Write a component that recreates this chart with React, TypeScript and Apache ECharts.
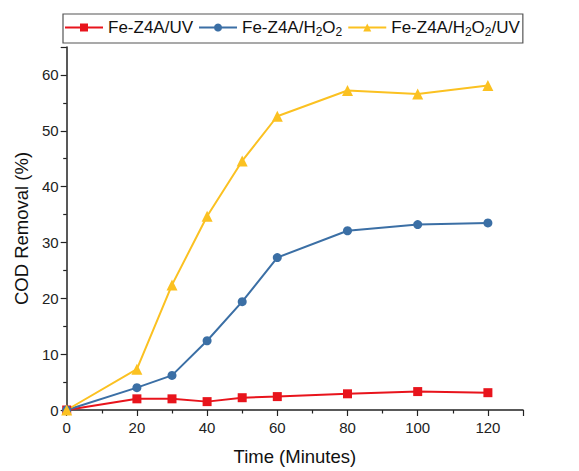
import React, { useEffect, useRef } from "react";
import * as echarts from "echarts";

const times = [0, 20, 30, 40, 50, 60, 80, 100, 120];
const uvValues = [0, 2.0, 2.0, 1.5, 2.2, 2.4, 2.9, 3.3, 3.1];
const h2o2Values = [0, 4.0, 6.2, 12.4, 19.4, 27.3, 32.1, 33.2, 33.5];
const h2o2UvValues = [0, 7.3, 22.4, 34.7, 44.6, 52.6, 57.2, 56.6, 58.1];
const seriesNames = ["Fe-Z4A/UV", "Fe-Z4A/H2O2", "Fe-Z4A/H2O2/UV"];
const legendLabels: Record<string, string> = {
  "Fe-Z4A/UV": "Fe-Z4A/UV",
  "Fe-Z4A/H2O2": "Fe-Z4A/H{sub|2}O{sub|2}",
  "Fe-Z4A/H2O2/UV": "Fe-Z4A/H{sub|2}O{sub|2}/UV",
};

const FONT = "'Liberation Sans', Arial, sans-serif";

export default function App() {
  const ref = useRef<HTMLDivElement>(null);
  useEffect(() => {
    if (!ref.current) return;
    const chart = echarts.init(ref.current, null, { renderer: "svg" });
    const mk = (name: string, vals: number[], color: string, symbol: string, size: number) => ({
      name,
      type: "line",
      data: times.map((t, i) => [t, vals[i]]),
      symbol,
      symbolSize: size,
      lineStyle: { color, width: 2 },
      itemStyle: { color },
      z: 3,
    });
    chart.setOption({
      animation: false,
      textStyle: { fontFamily: FONT },
      grid: { left: 66.7, right: 56, top: 47, bottom: 56.3, containLabel: false },
      legend: {
        left: 63,
        top: 14,
        padding: [5, 3, 5, 1],
        itemGap: 5,
        itemWidth: 38,
        itemHeight: 10,
        borderColor: "#555",
        borderWidth: 1.2,
        data: seriesNames,
        formatter: (n: string) => legendLabels[n],
        textStyle: {
          fontSize: 17,
          color: "#111",
          fontFamily: FONT,
          rich: {
            sub: { fontSize: 12, verticalAlign: "bottom", padding: [9, 0, 0, 0], color: "#111", fontFamily: FONT },
          },
        },
      },
      xAxis: {
        type: "value",
        min: 0,
        max: 130,
        interval: 20,
        name: "Time (Minutes)",
        nameLocation: "middle",
        nameGap: 37,
        nameTextStyle: { fontSize: 18.5, color: "#111", fontFamily: FONT },
        axisLine: { show: true, onZero: false, lineStyle: { color: "#222", width: 1.5 } },
        axisTick: { show: true, inside: false, length: 6, lineStyle: { color: "#222", width: 1.2 } },
        minorTick: { show: true, splitNumber: 2, length: 3.5, lineStyle: { color: "#222", width: 1.2 } },
        splitLine: { show: false },
        axisLabel: {
          fontSize: 15,
          color: "#222",
          margin: 10,
          fontFamily: FONT,
          formatter: (v: number) => (v > 120 ? "" : String(v)),
        },
      },
      yAxis: {
        type: "value",
        min: 0,
        max: 65,
        interval: 10,
        name: "COD Removal (%)",
        nameLocation: "middle",
        nameGap: 32,
        nameTextStyle: { fontSize: 18.5, color: "#111", fontFamily: FONT },
        axisLine: { show: true, onZero: false, lineStyle: { color: "#222", width: 1.5 } },
        axisTick: { show: true, inside: false, length: 6, lineStyle: { color: "#222", width: 1.2 } },
        minorTick: { show: true, splitNumber: 2, length: 3.5, lineStyle: { color: "#222", width: 1.2 } },
        splitLine: { show: false },
        axisLabel: {
          fontSize: 15,
          color: "#222",
          margin: 8,
          fontFamily: FONT,
          formatter: (v: number) => (v > 60 ? "" : String(v)),
        },
      },
      series: [
        mk(seriesNames[0], uvValues, "#e8141c", "rect", 9),
        mk(seriesNames[1], h2o2Values, "#3b6fa5", "circle", 9),
        mk(seriesNames[2], h2o2UvValues, "#fbc121", "triangle", 11),
      ],
    });
    return () => chart.dispose();
  }, []);
  return (
    <div
      ref={ref}
      style={{ position: "fixed", left: 0, top: 0, width: 579, height: 471, background: "#fff" }}
    />
  );
}
